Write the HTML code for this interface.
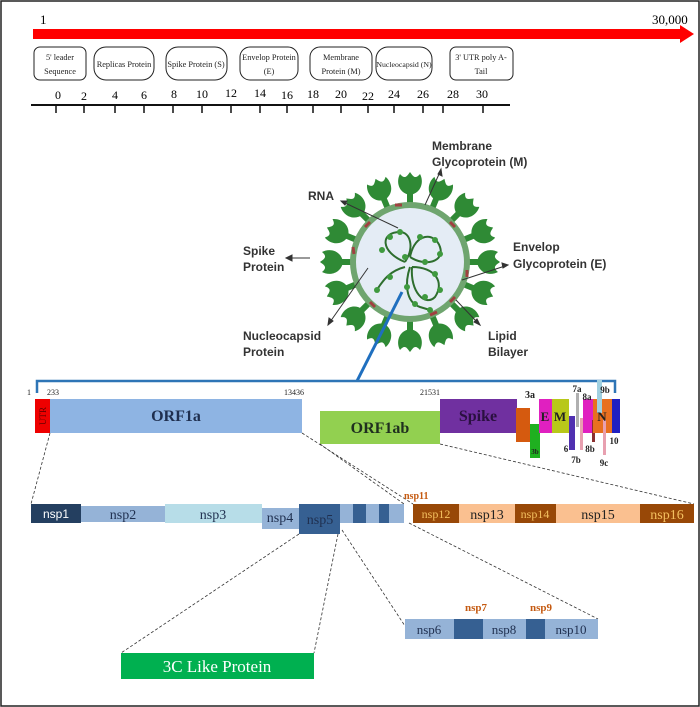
<!DOCTYPE html>
<html><head><meta charset="utf-8"><style>
html,body{margin:0;padding:0;background:#fff}
svg{display:block}
.s{font-family:"Liberation Serif",serif}
.b{font-family:"Liberation Sans",sans-serif;font-weight:bold;fill:#333}
</style></head><body>
<svg width="700" height="707" viewBox="0 0 700 707" xmlns="http://www.w3.org/2000/svg">
<rect x="1" y="1" width="698" height="705" fill="#fff" stroke="#222" stroke-width="1.5"/>
<text x="40" y="24" class="s" font-size="13">1</text>
<text x="652" y="24" class="s" font-size="13">30,000</text>
<rect x="33" y="29" width="650" height="10" fill="#f00"/>
<polygon points="680,25 694,34 680,43" fill="#f00"/>
<g class="s" font-size="8.3" text-anchor="middle" fill="#222">
<rect x="34" y="47" width="52" height="33" rx="6" fill="#fff" stroke="#222"/>
<text x="60" y="60">5' leader</text><text x="60" y="74">Sequence</text>
<rect x="94" y="47" width="60" height="33" rx="12" fill="#fff" stroke="#222"/>
<text x="124" y="67">Replicas Protein</text>
<rect x="166" y="47" width="61" height="33" rx="12" fill="#fff" stroke="#222"/>
<text x="196" y="67">Spike Protein (S)</text>
<rect x="240" y="47" width="58" height="33" rx="10" fill="#fff" stroke="#222"/>
<text x="269" y="60">Envelop Protein</text><text x="269" y="74">(E)</text>
<rect x="310" y="47" width="62" height="33" rx="10" fill="#fff" stroke="#222"/>
<text x="341" y="60">Membrane</text><text x="341" y="74">Protein (M)</text>
<rect x="376" y="47" width="56" height="33" rx="12" fill="#fff" stroke="#222"/>
<text x="404" y="67" font-size="7.8">Nucleocapsid (N)</text>
<rect x="450" y="47" width="63" height="33" rx="6" fill="#fff" stroke="#222"/>
<text x="481" y="60">3' UTR poly A-</text><text x="481" y="74">Tail</text>
</g>
<line x1="31" y1="105" x2="510" y2="105" stroke="#111" stroke-width="2"/>
<g stroke="#111" stroke-width="1.5">
<line x1="56" y1="105" x2="56" y2="113"/><line x1="84" y1="105" x2="84" y2="113"/><line x1="115" y1="105" x2="115" y2="113"/><line x1="144" y1="105" x2="144" y2="113"/><line x1="173" y1="105" x2="173" y2="113"/><line x1="202" y1="105" x2="202" y2="113"/><line x1="231" y1="105" x2="231" y2="113"/><line x1="260" y1="105" x2="260" y2="113"/><line x1="287" y1="105" x2="287" y2="113"/><line x1="313" y1="105" x2="313" y2="113"/><line x1="341" y1="105" x2="341" y2="113"/><line x1="368" y1="105" x2="368" y2="113"/><line x1="394" y1="105" x2="394" y2="113"/><line x1="423" y1="105" x2="423" y2="113"/><line x1="443" y1="105" x2="443" y2="113"/><line x1="483" y1="105" x2="483" y2="113"/>
</g>
<g class="s" font-size="12" text-anchor="middle">
<text x="58" y="99">0</text><text x="84" y="100">2</text><text x="115" y="99">4</text><text x="144" y="99">6</text><text x="174" y="98">8</text><text x="202" y="98">10</text><text x="231" y="97">12</text><text x="260" y="97">14</text><text x="287" y="99">16</text><text x="313" y="98">18</text><text x="341" y="98">20</text><text x="368" y="100">22</text><text x="394" y="98">24</text><text x="423" y="98">26</text><text x="453" y="98">28</text><text x="482" y="98">30</text>
</g>
<g transform="translate(410,262)">
<g fill="#2f8a35">
<g id="sp"><path d="M-3,-58 L-3,-70 L3,-70 L3,-58Z"/><path d="M0,-67 C-12,-69 -14,-81 -10,-88 C-5,-82 -3,-86 0,-90 C3,-86 5,-82 10,-88 C14,-81 12,-69 0,-67Z"/></g>
<use href="#sp" transform="rotate(22.5)"/><use href="#sp" transform="rotate(45)"/><use href="#sp" transform="rotate(67.5)"/><use href="#sp" transform="rotate(90)"/><use href="#sp" transform="rotate(112.5)"/><use href="#sp" transform="rotate(135)"/><use href="#sp" transform="rotate(157.5)"/><use href="#sp" transform="rotate(180)"/><use href="#sp" transform="rotate(202.5)"/><use href="#sp" transform="rotate(225)"/><use href="#sp" transform="rotate(247.5)"/><use href="#sp" transform="rotate(270)"/><use href="#sp" transform="rotate(292.5)"/><use href="#sp" transform="rotate(315)"/><use href="#sp" transform="rotate(337.5)"/>
</g>
<circle r="57" fill="#e4ecf5" stroke="#6fa56f" stroke-width="6"/>
<g stroke="#a04040" stroke-width="3">
<line x1="-15" y1="-57" x2="-8" y2="-57"/><line x1="40" y1="-40" x2="45" y2="-35"/><line x1="57" y1="8" x2="57" y2="15"/><line x1="20" y1="53" x2="27" y2="50"/><line x1="-40" y1="40" x2="-35" y2="45"/><line x1="-57" y1="-15" x2="-56" y2="-8"/><line x1="-45" y1="-35" x2="-40" y2="-40"/><line x1="45" y1="35" x2="40" y2="40"/>
</g>
<g fill="none" stroke="#2e6e2e" stroke-width="2">
<path d="M-5,0 C-30,-10 -30,-30 -10,-30 C0,-30 5,-15 -5,0"/>
<path d="M0,-5 C5,-30 25,-30 30,-15 C35,0 15,5 0,-5"/>
<path d="M2,5 C25,5 35,20 25,35 C15,45 0,30 2,5"/>
<path d="M-5,5 C-25,10 -30,25 -35,30"/>
<path d="M0,5 C-5,20 -5,40 10,45 L20,48"/>
</g>
<g fill="#3f9a3f">
<circle cx="-20" cy="-25" r="3"/><circle cx="-28" cy="-12" r="3"/><circle cx="-10" cy="-30" r="3"/><circle cx="10" cy="-25" r="3"/><circle cx="25" cy="-22" r="3"/><circle cx="30" cy="-8" r="3"/><circle cx="15" cy="0" r="3"/><circle cx="25" cy="12" r="3"/><circle cx="30" cy="28" r="3"/><circle cx="15" cy="35" r="3"/><circle cx="-20" cy="15" r="3"/><circle cx="-33" cy="28" r="3"/><circle cx="-3" cy="25" r="3"/><circle cx="5" cy="42" r="3"/><circle cx="20" cy="48" r="3"/><circle cx="-5" cy="-5" r="3"/>
</g>
</g>
<g stroke="#333" stroke-width="1" fill="#333">
<line x1="398" y1="228" x2="343" y2="202"/><polygon points="341,201 347,201 345,205"/>
<line x1="425" y1="205" x2="440" y2="172"/><polygon points="441,169 442,176 438,174"/>
<line x1="310" y1="258" x2="290" y2="258"/><polygon points="286,258 292,255 292,261"/>
<line x1="462" y1="280" x2="505" y2="266"/><polygon points="508,265 502,263 503,268"/>
<line x1="368" y1="268" x2="330" y2="322"/><polygon points="328,325 329,318 333,321"/>
<line x1="456" y1="300" x2="477" y2="322"/><polygon points="480,325 474,322 477,319"/>
</g>
<g class="b" font-size="12">
<text x="432" y="150">Membrane</text><text x="432" y="166">Glycoprotein (M)</text>
<text x="308" y="200">RNA</text>
<text x="243" y="255">Spike</text><text x="243" y="271">Protein</text>
<text x="513" y="251">Envelop</text><text x="513" y="268">Glycoprotein (E)</text>
<text x="243" y="340">Nucleocapsid</text><text x="243" y="356">Protein</text>
<text x="488" y="340">Lipid</text><text x="488" y="356">Bilayer</text>
</g>
<line x1="402" y1="292" x2="357" y2="381" stroke="#1f6fbf" stroke-width="3"/>
<path d="M37,393 L37,381 L615,381 L615,393" fill="none" stroke="#2e75b6" stroke-width="2.5"/>
<g class="s" font-size="8" fill="#222">
<text x="27" y="395">1</text><text x="47" y="395">233</text><text x="284" y="395">13436</text><text x="420" y="395">21531</text>
</g>
<rect x="35" y="399" width="15" height="34" fill="#e00"/>
<text transform="translate(46,416) rotate(-90)" class="s" font-size="9" text-anchor="middle" fill="#600">UTR</text>
<rect x="50" y="399" width="252" height="34" fill="#8eb4e3"/>
<text x="176" y="421" class="s" font-weight="bold" font-size="16" text-anchor="middle" fill="#1f2f4f">ORF1a</text>
<rect x="320" y="411" width="120" height="33" fill="#92d050"/>
<text x="380" y="433" class="s" font-weight="bold" font-size="16" text-anchor="middle" fill="#1f2f1f">ORF1ab</text>
<rect x="440" y="399" width="77" height="34" fill="#7030a0"/>
<text x="478" y="421" class="s" font-weight="bold" font-size="16" text-anchor="middle" fill="#2a1040">Spike</text>
<rect x="516" y="408" width="14" height="34" fill="#d55a0f"/>
<rect x="530" y="424" width="10" height="34" fill="#1fb020"/>
<rect x="539" y="399" width="13" height="34" fill="#e020c0"/>
<rect x="552" y="399" width="17" height="34" fill="#b8c81a"/>
<rect x="569" y="416" width="6" height="34" fill="#5030b0"/>
<rect x="576" y="393" width="3" height="34" fill="#b0b0b0"/>
<rect x="580" y="418" width="3" height="32" fill="#e8a0b0"/>
<rect x="583" y="399" width="10" height="34" fill="#e020c0"/>
<rect x="592" y="420" width="3" height="22" fill="#8b3030"/>
<rect x="593" y="399" width="19" height="34" fill="#e87020"/>
<rect x="597" y="380" width="5" height="33" fill="#a0d0e0"/>
<rect x="603" y="420" width="3" height="35" fill="#e8a0b0"/>
<rect x="612" y="399" width="8" height="34" fill="#2020c0"/>
<g class="s" font-weight="bold" fill="#222">
<text x="545" y="421" font-size="13" text-anchor="middle">E</text>
<text x="560" y="421" font-size="13" text-anchor="middle">M</text>
<text x="602" y="421" font-size="13" text-anchor="middle">N</text>
<text x="530" y="398" font-size="10" text-anchor="middle">3a</text>
<text x="535" y="454" font-size="7" text-anchor="middle">3b</text>
<text x="577" y="392" font-size="9" text-anchor="middle">7a</text>
<text x="587" y="400" font-size="9" text-anchor="middle">8a</text>
<text x="605" y="393" font-size="9" text-anchor="middle">9b</text>
<text x="566" y="452" font-size="9" text-anchor="middle">6</text>
<text x="576" y="463" font-size="9" text-anchor="middle">7b</text>
<text x="590" y="452" font-size="9" text-anchor="middle">8b</text>
<text x="604" y="466" font-size="9" text-anchor="middle">9c</text>
<text x="614" y="444" font-size="9" text-anchor="middle">10</text>
</g>
<g stroke="#333" stroke-width="0.8" stroke-dasharray="3,2" fill="none">
<line x1="50" y1="433" x2="31" y2="504"/>
<line x1="302" y1="433" x2="413" y2="504"/>
<line x1="320" y1="444" x2="404" y2="504"/>
<line x1="440" y1="444" x2="694" y2="504"/>
<line x1="299" y1="534" x2="121" y2="653"/>
<line x1="338" y1="534" x2="314" y2="653"/>
<line x1="342" y1="530" x2="405" y2="626"/>
<line x1="409" y1="523" x2="598" y2="619"/>
</g>
<rect x="31" y="504" width="50" height="19" fill="#243f60"/>
<rect x="81" y="506" width="84" height="16" fill="#95b3d7"/>
<rect x="165" y="504" width="97" height="19" fill="#b7dde8"/>
<rect x="262" y="508" width="37" height="21" fill="#95b3d7"/>
<rect x="299" y="504" width="41" height="30" fill="#366092"/>
<rect x="340" y="504" width="64" height="19" fill="#95b3d7"/>
<rect x="353" y="504" width="13" height="19" fill="#366092"/>
<rect x="379" y="504" width="10" height="19" fill="#366092"/>
<rect x="413" y="504" width="46" height="19" fill="#984807"/>
<rect x="459" y="504" width="56" height="19" fill="#fac090"/>
<rect x="515" y="504" width="41" height="19" fill="#984807"/>
<rect x="556" y="504" width="84" height="19" fill="#fac090"/>
<rect x="640" y="504" width="54" height="19" fill="#984807"/>
<g class="s" font-size="14" text-anchor="middle">
<text x="56" y="518" fill="#fff" font-family="Liberation Sans" font-size="12">nsp1</text>
<text x="123" y="519" fill="#1f2f4f">nsp2</text>
<text x="213" y="519" fill="#1f2f4f">nsp3</text>
<text x="280" y="522" fill="#1f2f4f">nsp4</text>
<text x="320" y="524" fill="#1f2f4f">nsp5</text>
<text x="436" y="518" fill="#f4c060" font-size="12">nsp12</text>
<text x="487" y="519" fill="#222">nsp13</text>
<text x="535" y="518" fill="#f4c060" font-size="12">nsp14</text>
<text x="598" y="519" fill="#222">nsp15</text>
<text x="667" y="519" fill="#f4c060">nsp16</text>
</g>
<text x="404" y="499" class="s" font-weight="bold" font-size="10" fill="#c55a11">nsp11</text>
<rect x="121" y="653" width="193" height="26" fill="#00b050"/>
<text x="217" y="672" class="s" font-size="17" text-anchor="middle" fill="#fff">3C Like Protein</text>
<rect x="405" y="619" width="49" height="20" fill="#95b3d7"/>
<rect x="454" y="619" width="29" height="20" fill="#366092"/>
<rect x="483" y="619" width="43" height="20" fill="#95b3d7"/>
<rect x="526" y="619" width="19" height="20" fill="#366092"/>
<rect x="545" y="619" width="53" height="20" fill="#95b3d7"/>
<g class="s" font-size="13" text-anchor="middle" fill="#1f2f4f">
<text x="429" y="634">nsp6</text><text x="504" y="634">nsp8</text><text x="571" y="634">nsp10</text>
</g>
<g class="s" font-size="11" font-weight="bold" fill="#c55a11" text-anchor="middle">
<text x="476" y="611">nsp7</text><text x="541" y="611">nsp9</text>
</g>
</svg>
</body></html>
